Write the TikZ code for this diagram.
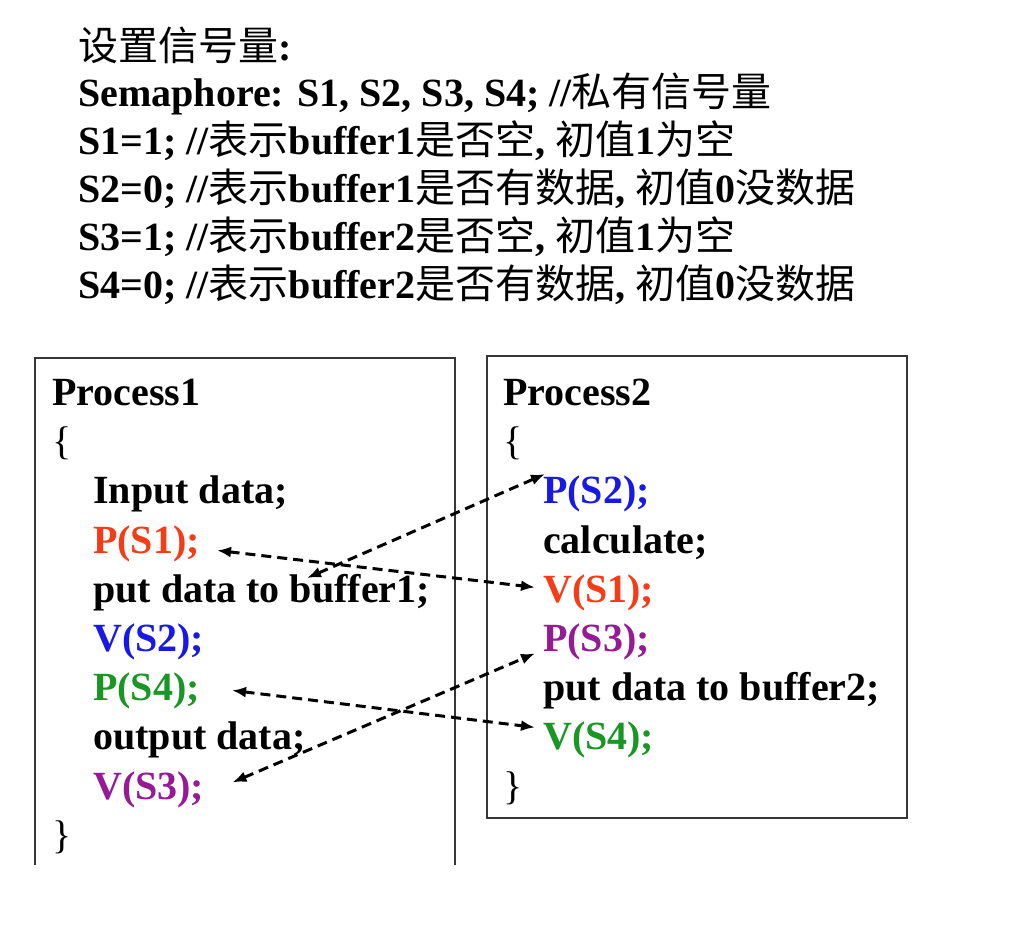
\documentclass[tikz,border=0pt]{standalone}
\usepackage{fontspec}
\setmainfont{Liberation Serif}
\newfontfamily\cjk{Noto Sans CJK SC}
\usetikzlibrary{arrows.meta,positioning,calc}
\definecolor{sred}{RGB}{245,60,25}
\definecolor{sblue}{RGB}{25,25,230}
\definecolor{sgreen}{RGB}{25,150,35}
\definecolor{spurple}{RGB}{150,25,150}
\definecolor{framegray}{RGB}{55,55,55}
\newcommand{\zh}[1]{{\cjk\mdseries #1}}

\begin{document}
\begin{tikzpicture}
    [x=1pt,y=-1pt,
      txt/.style={anchor=base west,inner sep=0pt,font=\fontsize{40}{48}\selectfont\bfseries},
      box/.style={draw=framegray,line width=2.8pt},
      link/.style={black,line width=3pt,dash pattern=on 10pt off 6pt,
          {Latex[length=14pt,width=11pt]}-{Latex[length=14pt,width=11pt]}}
    ]
    \useasboundingbox (0,0) rectangle (1024,930);
    % semaphores
    \node [txt] (title) at (78,60) {\zh{设置信号量}:};
    \node [txt] (decl) at (78,106) {Semaphore: S1, S2, S3, S4; //\zh{私有信号量}};
    \node [txt] (s1) at (78,154) {S1=1; //\zh{表示}buffer1\zh{是否空}, \zh{初值}1\zh{为空}};
    \node [txt] (s2) at (78,202) {S2=0; //\zh{表示}buffer1\zh{是否有数据}, \zh{初值}0\zh{没数据}};
    \node [txt] (s3) at (78,250) {S3=1; //\zh{表示}buffer2\zh{是否空}, \zh{初值}1\zh{为空}};
    \node [txt] (s4) at (78,298) {S4=0; //\zh{表示}buffer2\zh{是否有数据}, \zh{初值}0\zh{没数据}};

    % frames
    \draw [box] (35,865) -- (35,358) -- (455,358) -- (455,865);
    \draw [box] (487,356) rectangle (907,818);

    % Process1
    \node [txt] (a0) at (52,405) {Process1};
    \node [txt] (a1) at (52,454) {\mdseries\{};
    \node [txt] (a2) at (93,503) {Input data;};
    \node [txt,sred] (a3) at (93,553) {P(S1);};
    \node [txt] (a4) at (93,602) {put data to buffer1;};
    \node [txt,sblue] (a5) at (93,651) {V(S2);};
    \node [txt,sgreen] (a6) at (93,700) {P(S4);};
    \node [txt] (a7) at (93,749) {output data;};
    \node [txt,spurple] (a8) at (93,799) {V(S3);};
    \node [txt] (a9) at (52,848) {\mdseries\}};

    % Process2
    \node [txt] (b0) at (503,405) {Process2};
    \node [txt] (b1) at (503,454) {\mdseries\{};
    \node [txt,sblue] (b2) at (543,503) {P(S2);};
    \node [txt] (b3) at (543,553) {calculate;};
    \node [txt,sred] (b4) at (543,602) {V(S1);};
    \node [txt,spurple] (b5) at (543,651) {P(S3);};
    \node [txt] (b6) at (543,700) {put data to buffer2;};
    \node [txt,sgreen] (b7) at (543,749) {V(S4);};
    \node [txt] (b8) at (503,799) {\mdseries\}};

    % signals
    \coordinate (tail) at (307,578);
    \draw [link] ($(a3.east)+(17,7)$) -- ($(b4.west)+(-8,-5)$);
    \draw [link] (tail) -- ($(b2.north west)+(2,-1)$);
    \draw [link] ($(a6.east)+(32,0)$) -- ($(b7.west)+(-8,-12)$);
    \draw [link] ($(a8.east)+(28,-7)$) -- ($(b5.west)+(-8,12)$);
  \end{tikzpicture}
\end{document}
